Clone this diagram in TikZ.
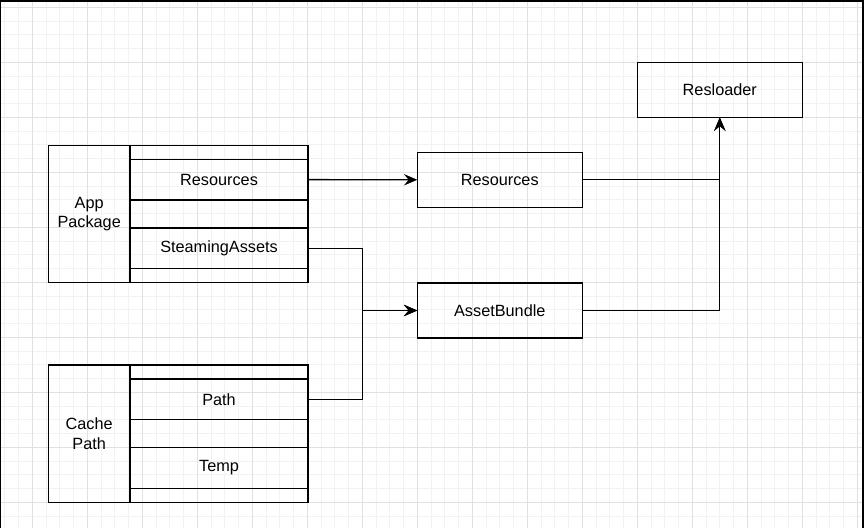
\documentclass[tikz,border=0pt]{standalone}
\usepackage{fontspec}
\setmainfont{Liberation Sans}
\usetikzlibrary{arrows.meta,positioning}

\begin{document}
\begin{tikzpicture}[x=0.75pt, y=-0.75pt,
    cell/.style={draw, line width=1pt, inner sep=0pt, outer sep=0pt,
      anchor=north west, align=center, font=\fontsize{12.2}{14.3}\selectfont},
    rowcell/.style={cell, minimum width=133.5pt},
    box/.style={cell, minimum width=123.75pt, minimum height=41.25pt},
    link/.style={line width=1pt, -{Stealth[length=10pt, width=8.5pt, inset=3.5pt]}}]

  % Definitions
  \pgfmathsetmacro{\W}{864}
  \pgfmathsetmacro{\H}{528}

  \useasboundingbox (0,0) rectangle (\W,\H);
  \fill[white] (0,0) rectangle (\W,\H);

  % background grid
  \foreach \x in {4.8,18.55,...,864} \draw[black!5, line width=0.75pt] (\x,0) -- (\x,\H);
  \foreach \y in {7.3,21.05,...,528} \draw[black!5, line width=0.75pt] (0,\y) -- (\W,\y);
  \foreach \x in {32.3,87.3,...,864} \draw[black!12, line width=0.75pt] (\x,0) -- (\x,\H);
  \foreach \y in {7.3,62.3,...,528} \draw[black!12, line width=0.75pt] (0,\y) -- (\W,\y);

  % frame
  \draw[line width=1.2pt] (0.7,\H) -- (0.7,0.8) -- (862.9,0.8) -- (862.9,\H);

  % app package
  \node[cell, minimum width=61.3pt, minimum height=103pt] (app) at (48.3,145.3) {App\\Package};
  \node[rowcell, minimum height=10.5pt] (app1) at (app.north east) {};
  \node[rowcell, minimum height=30.5pt, below=0pt of app1] (appres) {Resources};
  \node[rowcell, minimum height=21pt, below=0pt of appres] (app2) {};
  \node[rowcell, minimum height=30.5pt, below=0pt of app2] (appsteam) {SteamingAssets};
  \node[rowcell, minimum height=10.5pt, below=0pt of appsteam] (app3) {};

  % cache path
  \node[cell, minimum width=61.3pt, minimum height=103pt] (cache) at (48.3,365) {Cache\\Path};
  \node[rowcell, minimum height=10.5pt] (cache1) at (cache.north east) {};
  \node[rowcell, minimum height=30.5pt, below=0pt of cache1] (cachepath) {Path};
  \node[rowcell, minimum height=21pt, below=0pt of cachepath] (cache2) {};
  \node[rowcell, minimum height=30.5pt, below=0pt of cache2] (cachetemp) {Temp};
  \node[rowcell, minimum height=10.5pt, below=0pt of cachetemp] (cache3) {};

  % loaders
  \node[box] (loader) at (637.3,62.5) {Resloader};
  \node[box] (res) at (417.3,152.3) {Resources};
  \node[box] (bundle) at (417.3,283) {AssetBundle};
  \coordinate (join) at ([xshift=-41pt]bundle.west);

  % connectors
  \draw[link] (appres.east) -- (res.west);
  \draw[link] (appsteam.east) -| (join) -- (bundle.west);
  \draw[link] (cachepath.east) -| (join) -- (bundle.west);
  \draw[link] (res.east) -| (loader.south);
  \draw[link] (bundle.east) -| (loader.south);
\end{tikzpicture}
\end{document}
